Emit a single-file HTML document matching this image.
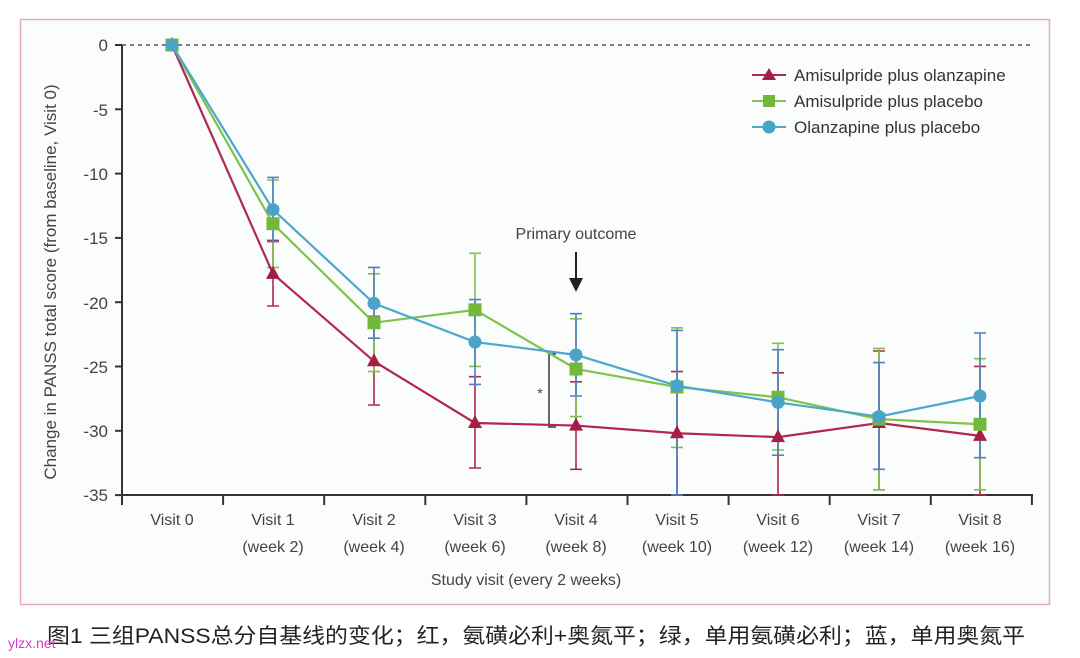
<!DOCTYPE html>
<html><head><meta charset="utf-8"><style>
html,body{margin:0;padding:0;background:#fff;}
svg{display:block;font-family:"Liberation Sans","Noto Sans CJK SC",sans-serif;}
</style></head><body>
<svg id="s" width="1080" height="658" viewBox="0 0 1080 658" xmlns="http://www.w3.org/2000/svg">
<rect x="0" y="0" width="1080" height="658" fill="#fff"/>
<rect x="20.5" y="19.5" width="1029" height="585" fill="#fbfcfc" stroke="#e3a9bd" stroke-width="1.5"/>
<line x1="122" y1="45" x2="1032" y2="45" stroke="#333" stroke-width="1.3" stroke-dasharray="4,4"/>
<g id="axes" stroke="#333" stroke-width="2" fill="none">
<line x1="122" y1="45" x2="122" y2="496"/>
<line x1="121" y1="495" x2="1033" y2="495"/>
</g>
<g id="lab" font-size="17" fill="#444" text-anchor="end">
<text x="108" y="51">0</text><text x="108" y="116">-5</text><text x="108" y="180">-10</text>
<text x="108" y="244">-15</text><text x="108" y="309">-20</text><text x="108" y="373">-25</text>
<text x="108" y="437">-30</text><text x="108" y="501">-35</text>
</g>
<text transform="translate(56,282) rotate(-90)" font-size="17" fill="#444" text-anchor="middle">Change in PANSS total score (from baseline, Visit 0)</text>
<g font-size="16" fill="#444" text-anchor="middle">
<text x="172" y="525">Visit 0</text>
<text x="273" y="525">Visit 1</text><text x="273" y="552">(week 2)</text>
<text x="374" y="525">Visit 2</text><text x="374" y="552">(week 4)</text>
<text x="475" y="525">Visit 3</text><text x="475" y="552">(week 6)</text>
<text x="576" y="525">Visit 4</text><text x="576" y="552">(week 8)</text>
<text x="677" y="525">Visit 5</text><text x="677" y="552">(week 10)</text>
<text x="778" y="525">Visit 6</text><text x="778" y="552">(week 12)</text>
<text x="879" y="525">Visit 7</text><text x="879" y="552">(week 14)</text>
<text x="980" y="525">Visit 8</text><text x="980" y="552">(week 16)</text>
<text x="526" y="585">Study visit (every 2 weeks)</text>
<text x="576" y="239">Primary outcome</text>
</g>
<line x1="576" y1="252" x2="576" y2="280" stroke="#222" stroke-width="2"/>
<polygon points="569,278 583,278 576,292" fill="#222"/>
<path d="M556,354 H549 V427 H556" stroke="#333" stroke-width="1.5" fill="none"/>
<text x="540" y="398" font-size="14" fill="#444" text-anchor="middle">*</text>
<g id="data"></g>
<g font-size="17" fill="#333">
<line x1="752" y1="75" x2="786" y2="75" stroke="#b0284f" stroke-width="2"/><polygon points="769,68 776,80 762,80" fill="#a51f45"/>
<text x="794" y="81">Amisulpride plus olanzapine</text>
<line x1="752" y1="101" x2="786" y2="101" stroke="#80c24a" stroke-width="2"/><rect x="763" y="95" width="12" height="12" fill="#72b83c"/>
<text x="794" y="107">Amisulpride plus placebo</text>
<line x1="752" y1="127" x2="786" y2="127" stroke="#4ba8cc" stroke-width="2"/><circle cx="769" cy="127" r="6.5" fill="#4ba3c8"/>
<text x="794" y="133">Olanzapine plus placebo</text>
</g>
<text x="47" y="643" font-size="21" fill="#222" textLength="978" lengthAdjust="spacingAndGlyphs">图1 三组PANSS总分自基线的变化；红，氨磺必利+奥氮平；绿，单用氨磺必利；蓝，单用奥氮平</text>
<text x="8" y="648" font-size="14" fill="#d63ad0">ylzx.net</text>
</svg>
<script>
var X=[172,273,374,475,576,677,778,879,980];
function Y(v){return 45-v*12.857;}
var S=[
{c:"#b0284f",e:"#b0284f",m:"t",v:[0,-17.8,-24.6,-29.4,-29.6,-30.2,-30.5,-29.4,-30.4],
 lo:[0,-15.2,-21.1,-25.8,-26.2,-25.4,-25.5,-23.8,-25.0],hi:[0,-20.3,-28.0,-32.9,-33.0,-35,-35,-34.6,-35]},
{c:"#80c24a",e:"#80c24a",m:"s",v:[0,-13.9,-21.6,-20.6,-25.2,-26.6,-27.4,-29.1,-29.5],
 lo:[0,-10.5,-17.8,-16.2,-21.3,-22.0,-23.2,-23.6,-24.4],hi:[0,-17.3,-25.4,-25.0,-28.9,-31.3,-31.5,-34.6,-34.6]},
{c:"#4ba8cc",e:"#4f7fc6",m:"c",v:[0,-12.8,-20.1,-23.1,-24.1,-26.5,-27.8,-28.9,-27.3],
 lo:[0,-10.3,-17.3,-19.8,-20.9,-22.2,-23.7,-24.7,-22.4],hi:[0,-15.3,-22.8,-26.4,-27.3,-35,-31.9,-33.0,-32.1]}
];
var h="";
S.forEach(function(s){
 for(var i=1;i<9;i++){var a=Y(s.lo[i]),b=Y(s.hi[i]);
  h+='<path d="M'+X[i]+','+a+'V'+b+'M'+(X[i]-6)+','+a+'h12M'+(X[i]-6)+','+b+'h12" stroke="'+s.e+'" stroke-width="1.6" fill="none"/>';}
});
S.forEach(function(s){
 h+='<polyline points="'+X.map(function(x,i){return x+','+Y(s.v[i]);}).join(' ')+'" stroke="'+s.c+'" stroke-width="2.2" fill="none"/>';
});
S.forEach(function(s){
 X.forEach(function(x,i){var y=Y(s.v[i]);
  if(s.m=="t")h+='<polygon points="'+x+','+(y-8)+' '+(x+7)+','+(y+5)+' '+(x-7)+','+(y+5)+'" fill="#a51f45"/>';
  else if(s.m=="s")h+='<rect x="'+(x-6.5)+'" y="'+(y-6.5)+'" width="13" height="13" fill="#72b83c"/>';
  else h+='<circle cx="'+x+'" cy="'+y+'" r="6.5" fill="#4ba3c8"/>';});
});
document.getElementById("data").innerHTML=h;
var t="";for(var k=0;k<10;k++){var x=122+k*101.1;t+='<line x1="'+x+'" y1="495" x2="'+x+'" y2="505"/>';}
for(var j=0;j<8;j++){var y=45+j*64.3;t+='<line x1="115" y1="'+y+'" x2="122" y2="'+y+'"/>';}
document.getElementById("axes").innerHTML+=t;
</script>
</body></html>
